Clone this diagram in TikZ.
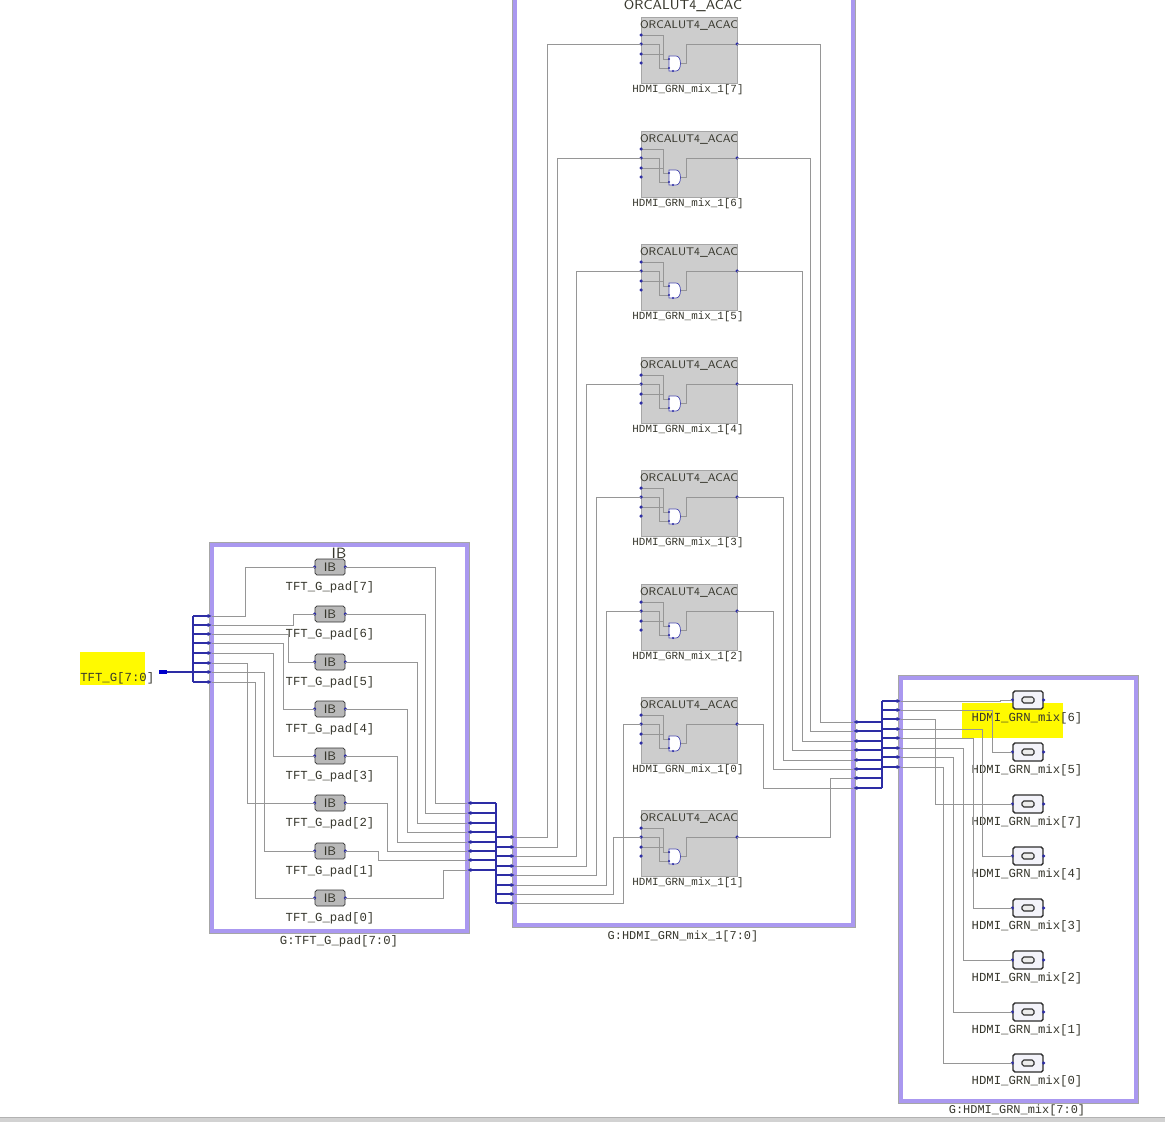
\documentclass[tikz,border=0pt]{standalone}
\usepackage{fontspec}
\setmainfont{Liberation Sans}
\setmonofont{Liberation Mono}
\usetikzlibrary{arrows.meta}
\definecolor{wire}{RGB}{150,150,150}
\definecolor{busblue}{RGB}{45,45,165}
\definecolor{frame}{RGB}{170,152,240}
\definecolor{txt}{RGB}{55,55,45}
\definecolor{lutfill}{RGB}{205,205,205}
\definecolor{ibfill}{RGB}{185,185,185}
\definecolor{obfill}{RGB}{243,243,250}
\definecolor{hl}{RGB}{255,250,0}

\begin{document}
\begin{tikzpicture}[x=0.02cm,y=-0.02cm,
	wire/.style={draw=wire,line width=0.45pt},
	bus/.style={draw=busblue,line width=0.8pt},
	pin/.style={bus,-{Latex[length=2.5pt,width=2.5pt]}},
	grp/.style={draw=frame,line width=2.3pt},
	rim/.style={draw=gray!70,line width=0.4pt},
	lbl/.style={font=\ttfamily\fontsize{7}{8}\selectfont,text=txt,inner sep=0pt},
	lutlbl/.style={font=\ttfamily\fontsize{6.2}{7}\selectfont,text=txt,inner sep=0pt},
	lutbox/.style={draw=gray!70,fill=lutfill,minimum width=1.92cm,minimum height=1.32cm,inner sep=0pt},
	ibcell/.style={draw=gray!40!black,fill=ibfill,rounded corners=1pt,minimum width=0.6cm,minimum height=0.32cm,inner sep=0pt,font=\sffamily\fontsize{7}{8}\selectfont,text=txt},
	obcell/.style={draw=gray!35!black,fill=obfill,line width=0.8pt,rounded corners=1pt,minimum width=0.6cm,minimum height=0.36cm,inner sep=0pt},
	dot/.style={fill=busblue,inner sep=0pt,minimum size=2pt,circle}]
	\useasboundingbox (0,0) rectangle (1165,1122);
	\clip (0,0) rectangle (1165,1122);
	\fill[white] (0,0) rectangle (1165,1122);
	% highlights
	\fill[hl] (80,652) rectangle (145,685);
	\fill[hl] (962,703) rectangle (1063,738);
	% group frames
	\draw[grp] (212,545) rectangle (467,931);
	\draw[grp] (515,-30) rectangle (853,925);
	\draw[grp] (901,678) rectangle (1136,1101);
	\draw[rim] (209.5,542.5) rectangle (469.5,933.5);
	\draw[rim] (512.5,-30) rectangle (855.5,927.5);
	\draw[rim] (898.5,675.5) rectangle (1138.5,1103.5);
	\node[lbl] (gleft) at (339,941) {G:TFT\_G\_pad[7:0]};
	\node[lbl,font=\ttfamily\fontsize{6.8}{8}\selectfont] (gmid) at (683,936) {G:HDMI\_GRN\_mix\_1[7:0]};
	\node[lbl,font=\ttfamily\fontsize{6.8}{8}\selectfont] (gright) at (1017,1110) {G:HDMI\_GRN\_mix[7:0]};
	\node[font=\sffamily\fontsize{8.5}{9}\selectfont,text=txt,inner sep=0pt] (ibtitle) at (339,553) {IB};
	\node[font=\sffamily\fontsize{7.6}{9}\selectfont,text=txt,inner sep=0pt] (luttitle) at (683,6) {ORCALUT4\_ACAC};
	% input port
	\node[lbl,anchor=west] (tftlbl) at (80,678) {TFT\_G[7:0]};
	\node[fill=blue!80!black,minimum width=4pt,minimum height=2.5pt,inner sep=0pt] (tftin) at (163,672) {};
	\draw[bus] (tftin) -- (193,672);
	% bus rippers
	\draw[bus] (193,616) -- (193,682);
	\draw[bus] (496,803) -- (496,903);
	\draw[bus] (882,701) -- (882,788);
	% IB cells
	\foreach \k/\y in {7/567,6/614,5/662,4/709,3/756,2/803,1/851,0/898}{
		\node[ibcell] (ib\k) at (330,\y) {IB};
		\node[dot] at (ib\k.west) {};
		\node[dot] at (ib\k.east) {};
		\node[lbl] (ibl\k) at (330,\y+20) {TFT\_G\_pad[\k]};
	}
	\foreach \j/\y/\k/\xv in {1/616/7/245,2/625/6/293,3/634/5/288,4/643/4/283,5/653/3/273,6/663/2/247,7/672/1/264,8/682/0/255}{
		\coordinate (lp\j) at (212,\y);
		\draw[pin] (193,\y) -- (lp\j);
		\draw[wire] (lp\j) -- (\xv,\y) |- (ib\k.west);
	}
	\foreach \k/\xv/\y in {7/435/803,6/425/813,5/417/823,4/407/832,3/397/842,2/387/851,1/378/860,0/443/870}{
		\coordinate (rp\k) at (467,\y);
		\draw[wire] (ib\k.east) -| (\xv,\y) -- (rp\k);
		\draw[pin] (496,\y) -- (rp\k);
	}
	% LUT blocks
	\foreach \k/\t in {7/17,6/131,5/244,4/357,3/470,2/584,0/697,1/810}{
		\node[lutbox,anchor=north west] (lut\k) at (641,\t) {};
		\node[font=\sffamily\fontsize{6.3}{7}\selectfont,text=txt,inner sep=0pt] (lutt\k) at (689,\t+8) {ORCALUT4\_ACAC};
		\node[lutlbl] (lutl\k) at (688,\t+73) {HDMI\_GRN\_mix\_1[\k]};
		\begin{scope}[shift={(641,\t)}]
			\coordinate (in\k) at (0,27);
			\coordinate (out\k) at (96,27);
			\draw[wire] (0,18) -| (22,42) -- (28,42);
			\draw[wire] (0,27) -| (18,51) -- (28,51);
			\draw[wire] (0,37) -- (22,37);
			\draw[draw=gray!60!blue,fill=white,line width=0.4pt] (28,39) -- (35,39) .. controls (41,39) and (41,54) .. (35,54) -- (28,54) -- cycle;
			\draw[wire] (40,46) -- (45,46) |- (96,27);
			\foreach \p in {18,27,37,46} \node[dot] at (0,\p) {};
			\node[dot] at (96,27) {};
			\node[dot,minimum size=1.4pt] at (28,42) {};
			\node[dot,minimum size=1.4pt] at (28,51) {};
			\node[dot,minimum size=1.4pt] at (32,54) {};
		\end{scope}
	}
	\foreach \k/\y/\xv in {7/837/547,6/847/557,5/856/576,4/866/586,3/875/596,2/885/606,1/894/613,0/903/623}{
		\coordinate (mlp\k) at (515,\y);
		\draw[pin] (496,\y) -- (mlp\k);
		\draw[wire] (mlp\k) -- (\xv,\y) |- (in\k);
	}
	\foreach \k/\xv/\y in {7/820/722,6/810/731,5/802/741,4/792/750,3/783/760,2/773/769,1/830/778,0/763/788}{
		\coordinate (mrp\k) at (853,\y);
		\draw[wire] (out\k) -| (\xv,\y) -- (mrp\k);
		\draw[pin] (882,\y) -- (mrp\k);
	}
	% output cells
	\foreach \k/\y in {6/700,5/752,7/804,4/856,3/908,2/960,1/1012,0/1063}{
		\node[obcell] (ob\k) at (1028,\y) {};
		\draw[draw=gray!35!black,fill=gray!15,rounded corners=1pt,line width=0.6pt] (1022,\y-3) rectangle (1034,\y+3);
		\node[dot] at (ob\k.west) {};
		\node[dot] at (ob\k.east) {};
		\node[lbl] (obl\k) at (1027,\y+18) {HDMI\_GRN\_mix[\k]};
	}
	\foreach \j/\y/\k/\xv in {1/701/6/1000,2/710/5/992,3/719/7/935,4/729/4/982,5/738/3/973,6/748/2/963,7/757/1/953,8/767/0/943}{
		\coordinate (rip\j) at (901,\y);
		\draw[pin] (882,\y) -- (rip\j);
		\draw[wire] (rip\j) -- (\xv,\y) |- (ob\k.west);
	}
	% window edge
	\fill[gray!35] (0,1117) rectangle (1165,1122);
	\draw[gray!60,line width=0.5pt] (0,1117) -- (1165,1117);
\end{tikzpicture}
\end{document}
